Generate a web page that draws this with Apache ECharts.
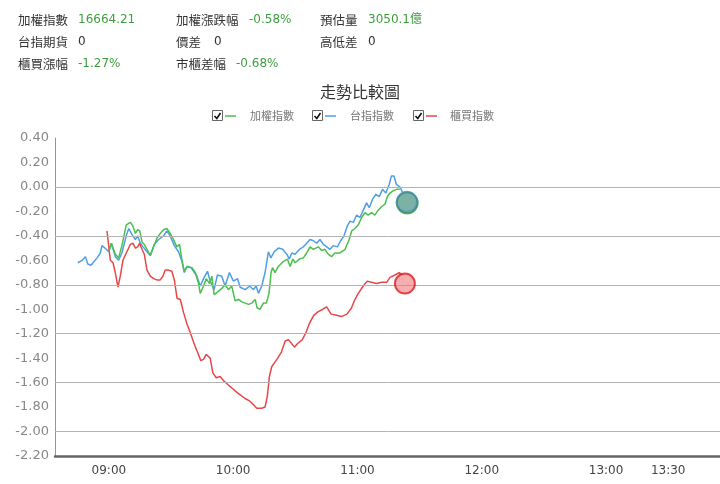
<!DOCTYPE html>
<html>
<head>
<meta charset="utf-8">
<script src="https://cdn.jsdelivr.net/npm/echarts@6/dist/echarts.min.js"></script>
<style>
html,body{margin:0;padding:0;background:#fff;}
#chart{width:720px;height:484px;}
</style>
</head>
<body>
<div id="chart"></div>
<script>
// ---- data (minutes since midnight, percent change) ----
const timeTickValues = [540, 600, 660, 720, 780, 810];
const gridValues = [0, -0.4, -0.8, -1.2, -1.6, -2.0];

const seriesNames = ['加權指數', '台指指數', '櫃買指數'];

// 加權指數
const tTaiex = [540.0,541.2,543.1,544.7,546.3,548.4,550.4,551.6,552.8,553.9,554.9,556.0,557.1,558.4,560.0,561.6,563.2,564.8,566.4,568.0,569.6,571.2,572.8,574.1,575.3,576.4,577.7,580.1,581.7,583.3,584.1,585.7,587.0,588.6,589.7,590.8,592.4,594.5,596.1,597.7,599.3,600.9,602.6,604.2,605.8,607.4,609.0,610.6,611.6,613.0,614.6,616.0,617.3,618.3,619.0,620.2,621.8,624.2,626.2,627.5,628.8,629.9,632.0,633.9,635.5,637.1,638.7,641.1,642.7,644.3,645.9,647.5,649.1,651.6,654.0,656.0,657.2,658.8,660.4,662.0,663.6,665.2,666.8,668.4,670.0,671.7,673.3,674.4,675.7,677.3,678.9,680.4];
const vTaiex = [-0.53,-0.46,-0.55,-0.58,-0.48,-0.31,-0.29,-0.32,-0.38,-0.35,-0.36,-0.45,-0.47,-0.51,-0.56,-0.49,-0.42,-0.38,-0.35,-0.34,-0.38,-0.43,-0.49,-0.47,-0.60,-0.69,-0.65,-0.66,-0.70,-0.79,-0.87,-0.81,-0.75,-0.79,-0.73,-0.88,-0.86,-0.83,-0.80,-0.84,-0.81,-0.93,-0.92,-0.94,-0.95,-0.96,-0.95,-0.92,-0.99,-1.00,-0.95,-0.95,-0.87,-0.70,-0.66,-0.70,-0.65,-0.61,-0.59,-0.65,-0.59,-0.62,-0.59,-0.58,-0.54,-0.49,-0.51,-0.49,-0.52,-0.51,-0.55,-0.57,-0.54,-0.54,-0.51,-0.43,-0.36,-0.34,-0.31,-0.25,-0.21,-0.23,-0.21,-0.23,-0.19,-0.16,-0.14,-0.08,-0.05,-0.03,-0.02,-0.02];

// 台指指數
const tFut = [525.0,527.1,528.7,529.8,531.4,534.3,535.9,536.7,538.8,539.9,541.2,543.1,544.7,546.3,548.4,549.6,551.2,552.8,553.9,555.2,556.5,558.4,560.0,561.9,564.0,566.4,568.0,569.6,571.6,573.6,575.3,576.4,577.7,579.6,580.9,582.5,584.1,585.7,587.6,588.9,590.8,592.4,594.5,596.1,598.2,600.1,602.1,603.4,605.8,608.0,609.8,611.1,612.2,613.8,615.4,617.0,618.2,619.8,621.8,623.9,625.9,627.1,628.3,629.9,632.0,633.9,635.5,637.1,638.7,640.3,641.9,643.5,645.2,646.7,648.3,650.3,651.9,653.5,655.1,656.4,658.0,659.6,661.2,662.8,664.4,665.7,667.3,668.9,670.5,672.1,673.7,675.3,676.4,677.6,678.8,680.4,681.7];
const vFut = [-0.62,-0.60,-0.57,-0.63,-0.64,-0.58,-0.54,-0.48,-0.51,-0.53,-0.46,-0.57,-0.60,-0.54,-0.40,-0.34,-0.39,-0.43,-0.40,-0.46,-0.49,-0.53,-0.56,-0.47,-0.43,-0.40,-0.36,-0.40,-0.48,-0.53,-0.61,-0.70,-0.65,-0.66,-0.69,-0.73,-0.81,-0.75,-0.69,-0.77,-0.84,-0.72,-0.73,-0.81,-0.70,-0.77,-0.75,-0.82,-0.84,-0.81,-0.84,-0.81,-0.87,-0.81,-0.70,-0.53,-0.58,-0.53,-0.50,-0.51,-0.55,-0.59,-0.54,-0.55,-0.51,-0.49,-0.46,-0.43,-0.44,-0.46,-0.43,-0.47,-0.49,-0.51,-0.48,-0.49,-0.44,-0.40,-0.32,-0.28,-0.29,-0.23,-0.25,-0.19,-0.13,-0.17,-0.10,-0.06,-0.08,-0.02,-0.05,0.02,0.09,0.09,0.02,0.00,-0.04];

// 櫃買指數
const tOtc = [539.1,540.7,542.0,543.1,544.4,545.5,546.8,548.4,550.4,551.6,552.8,553.9,554.9,556.0,557.1,558.4,560.0,561.6,563.2,564.8,566.1,567.2,568.8,570.4,571.6,572.9,574.5,576.1,577.7,579.3,580.9,582.5,584.4,585.7,587.0,588.9,590.2,591.8,593.7,595.7,597.7,599.8,601.8,603.4,605.8,607.9,609.8,611.4,613.8,615.4,616.5,617.5,618.6,621.1,623.3,625.1,626.7,629.6,631.1,633.3,634.9,636.7,638.9,641.1,643.3,645.1,647.3,650.0,652.2,654.9,657.1,658.5,660.4,662.8,664.7,666.8,669.2,671.7,674.1,675.7,678.1,680.1,681.8];
const vOtc = [-0.36,-0.60,-0.62,-0.70,-0.82,-0.73,-0.60,-0.54,-0.47,-0.46,-0.50,-0.49,-0.46,-0.51,-0.55,-0.68,-0.73,-0.75,-0.76,-0.76,-0.73,-0.68,-0.68,-0.69,-0.76,-0.91,-0.92,-1.03,-1.12,-1.19,-1.27,-1.34,-1.42,-1.41,-1.37,-1.40,-1.52,-1.56,-1.55,-1.59,-1.62,-1.65,-1.68,-1.70,-1.73,-1.75,-1.78,-1.81,-1.81,-1.80,-1.71,-1.55,-1.47,-1.41,-1.35,-1.26,-1.25,-1.31,-1.28,-1.25,-1.20,-1.12,-1.05,-1.02,-1.00,-0.98,-1.04,-1.05,-1.06,-1.04,-0.99,-0.93,-0.87,-0.81,-0.77,-0.78,-0.79,-0.78,-0.78,-0.74,-0.72,-0.70,-0.72];

// current-point markers
const markerTimes = [684.0, 683.8, 682.9];
const markerValues = [-0.13, -0.12, -0.79];

// header info
const infoLabels = [['加權指數','加權漲跌幅','預估量'],['台指期貨','價差','高低差'],['櫃買漲幅','市櫃差幅']];
const infoValues = [['16664.21','-0.58%','3050.1億'],['0','0','0'],['-1.27%','-0.68%']];
const infoIsChange = [[true,true,true],[false,false,false],[true,true]];

// ---- styling ----
const colors = ['#4cbf4c', '#4f9ee6', '#e8474a'];
const cjk = '"Noto Sans CJK TC","DejaVu Sans",sans-serif';
const num = '"DejaVu Sans","Noto Sans CJK TC",sans-serif';

const pad = n => (n < 10 ? '0' : '') + n;
const pair = (ts, vs) => ts.map((t, i) => [t, vs[i]]);

const graphics = [];
const colX = [18, 176, 320];
const valX = [[78, 249, 368], [78, 214, 368], [78, 236]];
const rowY = [20, 42, 64];
infoLabels.forEach((row, r) => {
  row.forEach((lab, c) => {
    graphics.push({type: 'text', x: colX[c], y: rowY[r], style: {text: lab, fill: '#333', font: '12.5px ' + cjk, verticalAlign: 'middle'}});
    graphics.push({type: 'text', x: valX[r][c], y: rowY[r], style: {text: infoValues[r][c], fill: infoIsChange[r][c] ? '#3f9e3f' : '#333', font: '12px ' + num, verticalAlign: 'middle'}});
  });
});

// legend with checkboxes
const legBox = [212, 312, 413];
const legText = [250, 350, 450];
const legY = 116;
seriesNames.forEach((name, i) => {
  const bx = legBox[i];
  graphics.push({type: 'rect', shape: {x: bx + 0.5, y: legY - 5.5, width: 10, height: 10}, style: {fill: '#fff', stroke: '#666', lineWidth: 1}});
  graphics.push({type: 'polyline', shape: {points: [[bx + 2.5, legY], [bx + 4.8, legY + 2.5], [bx + 8.5, legY - 3]]}, style: {stroke: '#111', lineWidth: 1.6, fill: null}});
  graphics.push({type: 'line', shape: {x1: bx + 13, y1: legY, x2: bx + 24, y2: legY}, style: {stroke: colors[i], lineWidth: 1.5}});
  graphics.push({type: 'text', x: legText[i], y: legY, style: {text: name, fill: '#777', font: '11px ' + cjk, verticalAlign: 'middle'}});
});

const chart = echarts.init(document.getElementById('chart'), null, {renderer: 'canvas'});
chart.setOption({
  animation: false,
  backgroundColor: '#fff',
  title: {
    text: '走勢比較圖', left: 'center', top: 79,
    textStyle: {fontSize: 16, fontWeight: 'normal', color: '#333', fontFamily: cjk}
  },
  graphic: graphics,
  grid: {left: 55, right: 0, top: 138, bottom: 28, containLabel: false},
  xAxis: {
    type: 'value', min: 514, max: 835,
    axisLine: {show: true, onZero: false, lineStyle: {color: '#666', width: 2.5}},
    axisTick: {show: false},
    splitLine: {show: false},
    axisLabel: {
      customValues: timeTickValues,
      formatter: v => pad(Math.floor(v / 60)) + ':' + pad(Math.round(v % 60)),
      color: '#444', fontSize: 12, fontFamily: num, margin: 9
    }
  },
  yAxis: {
    type: 'value', min: -2.2, max: 0.4, interval: 0.2,
    axisLine: {show: true, lineStyle: {color: '#5aa5e6', width: 1}},
    axisTick: {show: false},
    splitLine: {show: false},
    axisLabel: {
      formatter: v => (Math.abs(v) < 1e-9 ? 0 : v).toFixed(2),
      color: '#888', fontSize: 13, fontFamily: num, margin: 6
    }
  },
  series: [
    {
      name: seriesNames[0], type: 'line', data: pair(tTaiex, vTaiex), showSymbol: false, symbol: 'none',
      lineStyle: {color: colors[0], width: 1.5}, itemStyle: {color: colors[0]}, z: 3,
      markLine: {
        silent: true, symbol: 'none', label: {show: false},
        lineStyle: {color: '#b4b4b4', width: 1, type: 'solid'},
        data: gridValues.map(v => ({yAxis: v}))
      }
    },
    {
      name: seriesNames[1], type: 'line', data: pair(tFut, vFut), showSymbol: false, symbol: 'none',
      lineStyle: {color: colors[1], width: 1.5}, itemStyle: {color: colors[1]}, z: 2
    },
    {
      name: seriesNames[2], type: 'line', data: pair(tOtc, vOtc), showSymbol: false, symbol: 'none',
      lineStyle: {color: colors[2], width: 1.5}, itemStyle: {color: colors[2]}, z: 2
    },
    {
      type: 'scatter', symbolSize: 21, z: 5,
      data: [[markerTimes[0], markerValues[0]]],
      itemStyle: {color: 'rgba(52,140,90,0.75)', borderColor: '#2f8a3a', borderWidth: 2}
    },
    {
      type: 'scatter', symbolSize: 20, z: 6,
      data: [[markerTimes[1], markerValues[1]]],
      itemStyle: {color: 'rgba(90,150,210,0.25)', borderColor: 'rgba(70,140,215,0.75)', borderWidth: 1.5}
    },
    {
      type: 'scatter', symbolSize: 20, z: 5,
      data: [[markerTimes[2], markerValues[2]]],
      itemStyle: {color: 'rgba(240,120,125,0.75)', borderColor: '#d91e24', borderWidth: 2}
    }
  ]
});
</script>
</body>
</html>
